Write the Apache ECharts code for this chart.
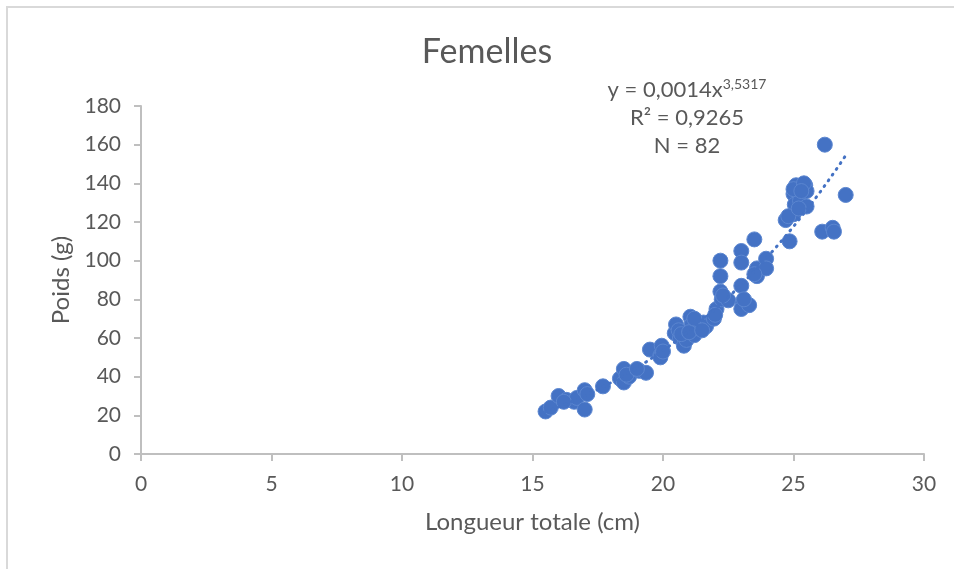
<!DOCTYPE html>
<html>
<head>
<meta charset="utf-8">
<script src="https://cdn.jsdelivr.net/npm/echarts@6/dist/echarts.min.js"></script>
<style>
  html, body { margin: 0; padding: 0; background: #ffffff; }
  #chart { width: 954px; height: 569px; }
</style>
</head>
<body>
<div id="chart"></div>
<script>
// Longueur totale (cm) of each female
const longueurs = [
  15.5, 15.7, 16.0, 16.3, 16.6, 16.7, 17.0, 17.0, 17.7, 18.35,
  18.5, 18.5, 18.7, 19.1, 19.35, 19.5, 19.9, 19.95, 19.9, 20.45,
  20.5, 20.65, 20.8, 20.9, 21.05, 21.1, 21.2, 21.35, 21.55, 21.65,
  21.95, 22.05, 22.2, 22.2, 22.2, 22.25, 22.5, 23.0, 23.0, 23.0,
  23.05, 23.0, 23.3, 23.5, 23.6, 23.6, 23.95, 23.95, 24.7, 24.85,
  25.0, 25.0, 25.05, 25.1, 25.25, 25.45, 25.5, 25.5, 26.2, 26.1,
  26.5, 26.55, 27.0,
  16.2, 18.6, 19.0, 20.6, 20.7, 21.0, 21.2, 21.5, 22.0, 22.3,
  23.1, 23.5, 24.8, 25.0, 25.2, 25.4, 25.3, 20.0, 17.1
];
// Poids (g) of each female, same order
const poids = [
  22, 24, 30, 28, 27, 29, 33, 23, 35, 39,
  44, 37, 40, 43, 42, 54, 51, 56, 50, 62.5,
  67, 60, 56, 59, 71, 67, 61.5, 65, 68, 66,
  70, 75, 100, 92, 84, 80, 79.5, 105, 99, 87,
  78.5, 75, 77, 111, 96, 92, 101, 96, 121, 110,
  124, 134.5, 129, 139, 131, 139, 136, 128, 160, 115,
  117, 115, 134,
  27, 41, 44, 64, 62, 63, 70, 64, 72, 82,
  80, 93, 123, 137, 127, 140, 136, 53, 31
];

// Power trend line y = a * x^b (a before rounding to the 0,0014 shown in the label)
const trendA = 0.00136;
const trendB = 3.5317;
const trendFrom = 15.5;
const trendTo = 27.0;
const equationCoef = 'y = 0,0014x';
const equationExp = '3,5317';
const r2Label = 'R² = 0,9265';
const nLabel = 'N = 82';

const xTicks = { min: 0, max: 30, interval: 5 };
const yTicks = { min: 0, max: 180, interval: 20 };

const points = longueurs.map((x, i) => [x, poids[i]]);
const trend = [];
for (let k = 0; k <= 60; k++) {
  const x = trendFrom + (trendTo - trendFrom) * k / 60;
  trend.push([x, trendA * Math.pow(x, trendB)]);
}

const FONT = 'Lato, "Open Sans", sans-serif';
const TXT = '#595959';
const AXIS = '#bfbfbf';
const BLUE = '#4472C4';

const chart = echarts.init(document.getElementById('chart'), null, { renderer: 'canvas' });

const baseX = {
  type: 'value', min: xTicks.min, max: xTicks.max, interval: xTicks.interval,
  splitLine: { show: false }
};
const baseY = {
  type: 'value', min: yTicks.min, max: yTicks.max, interval: yTicks.interval,
  splitLine: { show: false }
};

chart.setOption({
  animation: false,
  backgroundColor: '#ffffff',
  grid: { left: 141, right: 30, top: 106, bottom: 115, containLabel: false },
  xAxis: [
    Object.assign({}, baseX, {
      name: 'Longueur totale (cm)',
      nameLocation: 'middle',
      nameGap: 56,
      nameTextStyle: { fontFamily: FONT, fontSize: 24, color: TXT },
      axisLine: { show: true, lineStyle: { color: AXIS, width: 2 } },
      axisTick: { show: true, inside: false, length: 7, lineStyle: { color: AXIS, width: 2 } },
      axisLabel: { margin: 20, fontFamily: FONT, fontSize: 21, color: TXT }
    }),
    Object.assign({}, baseX, {
      axisLine: { show: false },
      axisTick: { show: true, inside: true, length: 7, lineStyle: { color: AXIS, width: 2 } },
      axisLabel: { show: false }
    })
  ],
  yAxis: [
    Object.assign({}, baseY, {
      name: 'Poids (g)',
      nameLocation: 'middle',
      nameGap: 67,
      nameTextStyle: { fontFamily: FONT, fontSize: 24, color: TXT },
      axisLine: { show: true, lineStyle: { color: AXIS, width: 2 } },
      axisTick: { show: true, inside: false, length: 7, lineStyle: { color: AXIS, width: 2 } },
      axisLabel: { margin: 20, fontFamily: FONT, fontSize: 21, color: TXT }
    }),
    Object.assign({}, baseY, {
      axisLine: { show: false },
      axisTick: { show: true, inside: true, length: 7, lineStyle: { color: AXIS, width: 2 } },
      axisLabel: { show: false }
    })
  ],
  graphic: [
    {
      type: 'rect',
      shape: { x: 7, y: 7, width: 1200, height: 1200 },
      style: { fill: 'none', stroke: '#d9d9d9', lineWidth: 2 },
      silent: true, z: 0
    },
    {
      type: 'text', x: 487, y: 52,
      style: { text: 'Femelles', fontFamily: FONT, fontSize: 34, fill: TXT, align: 'center', verticalAlign: 'middle' },
      z: 10
    },
    {
      type: 'text',
      x: 687, y: 90,
      style: {
        text: '{b|' + equationCoef + '}{s|' + equationExp + '}',
        rich: {
          b: { fontFamily: FONT, fontSize: 22, fill: TXT },
          s: { fontFamily: FONT, fontSize: 14, fill: TXT, verticalAlign: 'top', padding: [0, 0, 12, 0] }
        },
        align: 'center', verticalAlign: 'middle'
      },
      z: 10
    },
    {
      type: 'text', x: 687, y: 118,
      style: { text: r2Label, fontFamily: FONT, fontSize: 22, fill: TXT, align: 'center', verticalAlign: 'middle' },
      z: 10
    },
    {
      type: 'text', x: 687, y: 146,
      style: { text: nLabel, fontFamily: FONT, fontSize: 22, fill: TXT, align: 'center', verticalAlign: 'middle' },
      z: 10
    }
  ],
  series: [
    {
      type: 'scatter',
      xAxisIndex: 0, yAxisIndex: 0,
      data: points,
      symbol: 'circle',
      symbolSize: 15,
      itemStyle: { color: BLUE, opacity: 1, borderColor: '#5b86d0', borderWidth: 1 },
      z: 3
    },
    {
      type: 'line',
      xAxisIndex: 0, yAxisIndex: 0,
      data: trend,
      showSymbol: false,
      smooth: false,
      lineStyle: { color: BLUE, width: 3, type: [1, 6], cap: 'round' },
      z: 4
    }
  ]
});
</script>
</body>
</html>
